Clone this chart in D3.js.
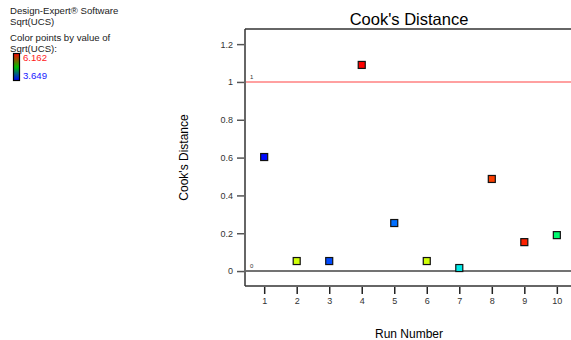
<!DOCTYPE html>
<html>
<head>
<meta charset="utf-8">
<script src="https://cdn.jsdelivr.net/npm/d3@7/dist/d3.min.js"></script>
<style>
  html, body { margin: 0; padding: 0; background: #fff; }
  svg { display: block; font-family: "Liberation Sans", Arial, sans-serif; }
</style>
</head>
<body>
<svg id="chart" width="571" height="340"></svg>
<script>
// Run order and Cook's distance for each run
const runs = [1, 2, 3, 4, 5, 6, 7, 8, 9, 10];
const cooksDistance = [0.603, 0.053, 0.053, 1.090, 0.254, 0.053, 0.016, 0.487, 0.153, 0.190];
// Response used to colour each point
const sqrtUCS = [3.68, 5.45, 3.85, 6.16, 3.95, 5.45, 4.35, 6.01, 6.08, 4.75];
const yTicks = [0, 0.2, 0.4, 0.6, 0.8, 1, 1.2];
const xTicks = [1, 2, 3, 4, 5, 6, 7, 8, 9, 10];
const ucsRange = [3.649, 6.162];
const cooksLimit = 1;

const svg = d3.select("#chart");

// plot frame
const frame = { left: 245, top: 29, bottom: 286, right: 577 };

const x = d3.scaleLinear().domain([0.41, 10.62]).range([frame.left, frame.right]);
const y = d3.scaleLinear().domain([-0.079, 1.28]).range([frame.bottom, frame.top]);

// rainbow colour ramp blue -> cyan -> green -> yellow -> red
const rampStops = ["#0000ff", "#00e8ff", "#00ff40", "#f0ff00", "#ff0000"];
const color = d3.scaleLinear()
  .domain(d3.range(rampStops.length).map(i => ucsRange[0] + i * (ucsRange[1] - ucsRange[0]) / (rampStops.length - 1)))
  .range(rampStops)
  .clamp(true);

// ----- header text -----
const info = svg.append("g").attr("font-size", 9.6).attr("fill", "#222");
info.append("text").attr("x", 10).attr("y", 14).text("Design-Expert® Software");
info.append("text").attr("x", 10).attr("y", 24.5).text("Sqrt(UCS)");
info.append("text").attr("x", 10).attr("y", 41).text("Color points by value of");
info.append("text").attr("x", 10).attr("y", 51.5).text("Sqrt(UCS):");

// colour bar
const defs = svg.append("defs");
const grad = defs.append("linearGradient").attr("id", "ucsGrad")
  .attr("x1", 0).attr("y1", 1).attr("x2", 0).attr("y2", 0);
grad.selectAll("stop").data([0, 0.5, 1]).join("stop")
  .attr("offset", d => d)
  .attr("stop-color", d => ["#0000ff", "#00c000", "#ff0000"][d * 2]);
svg.append("rect").attr("x", 13.5).attr("y", 53.5).attr("width", 6).attr("height", 27)
  .attr("fill", "url(#ucsGrad)").attr("stroke", "#000").attr("stroke-width", 1.2);
svg.append("text").attr("x", 23).attr("y", 61).attr("font-size", 9.6)
  .attr("fill", "#ff2020").text(ucsRange[1].toFixed(3));
svg.append("text").attr("x", 23).attr("y", 78.5).attr("font-size", 9.6)
  .attr("fill", "#2020ff").text(ucsRange[0].toFixed(3));

// ----- title -----
svg.append("text").attr("x", 409).attr("y", 25).attr("text-anchor", "middle")
  .attr("font-size", 16.5).attr("fill", "#000").text("Cook's Distance");

// ----- frame -----
svg.append("line").attr("x1", frame.left).attr("x2", 571).attr("y1", frame.top).attr("y2", frame.top)
  .attr("stroke", "#333").attr("stroke-width", 1.5);
svg.append("line").attr("x1", frame.left).attr("x2", 571).attr("y1", frame.bottom).attr("y2", frame.bottom)
  .attr("stroke", "#333").attr("stroke-width", 1.5);
svg.append("line").attr("x1", frame.left).attr("x2", frame.left).attr("y1", frame.top).attr("y2", frame.bottom)
  .attr("stroke", "#333").attr("stroke-width", 1.5);

// y axis ticks and labels
const yAxis = d3.axisLeft(y).tickValues(yTicks).tickSize(7).tickPadding(4)
  .tickFormat(d => d3.format("~g")(d));
const gy = svg.append("g").attr("transform", `translate(${frame.left - 1},0)`).call(yAxis);
gy.select(".domain").remove();
gy.selectAll(".tick line").attr("stroke", "#555").attr("stroke-width", 1.5);
gy.selectAll(".tick text").attr("font-size", 9).attr("fill", "#333")
  .attr("font-family", "Liberation Sans, Arial, sans-serif");

// x axis ticks and labels
const xAxis = d3.axisBottom(x).tickValues(xTicks).tickSize(7).tickPadding(4)
  .tickFormat(d3.format("d"));
const gx = svg.append("g").attr("transform", `translate(0,${frame.bottom + 1})`).call(xAxis);
gx.select(".domain").remove();
gx.selectAll(".tick line").attr("stroke", "#222").attr("stroke-width", 1.5);
gx.selectAll(".tick text").attr("font-size", 9).attr("fill", "#333")
  .attr("font-family", "Liberation Sans, Arial, sans-serif");

// axis titles
svg.append("text")
  .attr("transform", `translate(188,${(frame.top + frame.bottom) / 2}) rotate(-90)`)
  .attr("text-anchor", "middle").attr("font-size", 12).attr("fill", "#000")
  .text("Cook's Distance");
svg.append("text").attr("x", 409).attr("y", 338).attr("text-anchor", "middle")
  .attr("font-size", 12).attr("fill", "#000").text("Run Number");

// ----- reference lines -----
svg.append("line").attr("x1", frame.left + 1).attr("x2", 571)
  .attr("y1", y(cooksLimit)).attr("y2", y(cooksLimit))
  .attr("stroke", "#ff8080").attr("stroke-width", 1.6);
svg.append("text").attr("x", 250).attr("y", y(cooksLimit) - 3).attr("font-size", 6)
  .attr("fill", "#333").text(cooksLimit);
svg.append("line").attr("x1", frame.left + 1).attr("x2", 571).attr("y1", y(0)).attr("y2", y(0))
  .attr("stroke", "#444").attr("stroke-width", 1.4);
svg.append("text").attr("x", 250).attr("y", y(0) - 3).attr("font-size", 6)
  .attr("fill", "#333").text(0);

// ----- points -----
const pts = runs.map((r, i) => ({ run: r, d: cooksDistance[i], v: sqrtUCS[i] }));
svg.append("g").selectAll("rect").data(pts).join("rect")
  .attr("x", p => x(p.run) - 3.5)
  .attr("y", p => y(p.d) - 3.5)
  .attr("width", 7).attr("height", 7)
  .attr("fill", p => color(p.v))
  .attr("stroke", "#111").attr("stroke-width", 1.2);
</script>
</body>
</html>
